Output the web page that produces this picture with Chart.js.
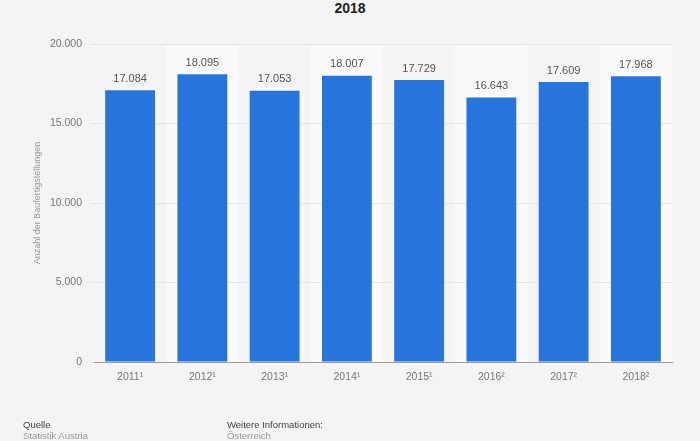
<!DOCTYPE html>
<html>
<head>
<meta charset="utf-8">
<script src="https://cdn.jsdelivr.net/npm/chart.js@4/dist/chart.umd.min.js"></script>
<style>
  html, body { margin: 0; padding: 0; background: #f4f4f4; }
  body { width: 700px; height: 441px; position: relative; overflow: hidden; font-family: "Liberation Sans", Arial, sans-serif; }
  #wrap { position: absolute; left: 0; top: 0; width: 700px; height: 441px; }
  .t { position: absolute; white-space: nowrap; font-size: 9.5px; line-height: 11px; }
  #title { position: absolute; left: 0; width: 700px; top: 0px; text-align: center; font-weight: bold; font-size: 14px; color: #222; }
</style>
</head>
<body>
<div id="title">2018</div>
<div id="wrap"><canvas id="c" width="700" height="441"></canvas></div>
<div class="t" style="left:23px; top:419px; color:#444;">Quelle</div>
<div class="t" style="left:23px; top:430px; color:#999;">Statistik Austria</div>
<div class="t" style="left:227px; top:419px; color:#444;">Weitere Informationen:</div>
<div class="t" style="left:227px; top:430px; color:#999;">Österreich</div>
<script>
const categories = ["2011¹", "2012¹", "2013¹", "2014¹", "2015¹", "2016²", "2017²", "2018²"];
const values = [17084, 18095, 17053, 18007, 17729, 16643, 17609, 17968];
const yTicks = [0, 5000, 10000, 15000, 20000];
const yTitle = "Anzahl der Baufertigstellungen";

const fmt = v => v.toLocaleString("de-DE");

const bandPlugin = {
  id: "bands",
  beforeDraw(chart) {
    const { ctx, chartArea, scales } = chart;
    const x = scales.x;
    const n = categories.length;
    const w = (chartArea.right - chartArea.left) / n;
    ctx.save();
    ctx.fillStyle = "#fafafa";
    for (let i = 0; i < n; i++) {
      if (i % 2 === 1) {
        const cx = x.getPixelForValue(i);
        ctx.fillRect(cx - w / 2, chartArea.top, w, chartArea.bottom - chartArea.top);
      }
    }
    ctx.restore();
  }
};

const labelPlugin = {
  id: "valueLabels",
  afterDatasetsDraw(chart) {
    const { ctx } = chart;
    const meta = chart.getDatasetMeta(0);
    ctx.save();
    ctx.font = "11px 'Liberation Sans', Arial, sans-serif";
    ctx.fillStyle = "#555";
    ctx.textAlign = "center";
    ctx.textBaseline = "bottom";
    meta.data.forEach((bar, i) => {
      ctx.fillText(fmt(values[i]), bar.x, bar.y - 6);
    });
    ctx.restore();
  }
};

new Chart(document.getElementById("c"), {
  type: "bar",
  data: {
    labels: categories,
    datasets: [{
      data: values,
      backgroundColor: "#2775dc",
      borderWidth: 0,
      barPercentage: 0.69,
      categoryPercentage: 1.0
    }]
  },
  options: {
    responsive: false,
    animation: false,
    devicePixelRatio: 1,
    layout: { padding: { top: 44, right: 28, bottom: 49, left: 32 } },
    plugins: { legend: { display: false }, tooltip: { enabled: false }, title: { display: false } },
    scales: {
      x: {
        grid: { display: false, drawTicks: false },
        border: { display: true, color: "#999", width: 1 },
        ticks: { color: "#777", font: { family: "'Liberation Sans', Arial, sans-serif", size: 10.5 }, padding: 9 },
        afterFit(s) { s.height = 30; }
      },
      y: {
        min: 0, max: 20000,
        afterBuildTicks(s) { s.ticks = yTicks.map(v => ({ value: v })); },
        grid: { color: "#e4e4e4", drawTicks: true, tickLength: 4, tickColor: "#e4e4e4" },
        border: { display: false },
        ticks: { color: "#777", font: { family: "'Liberation Sans', Arial, sans-serif", size: 10.5 }, padding: 8, callback: v => fmt(v) },
        title: { display: true, text: yTitle, color: "#999", font: { family: "'Liberation Sans', Arial, sans-serif", size: 9 }, padding: 0 },
        afterFit(s) { s.width = 62; }
      }
    }
  },
  plugins: [bandPlugin, labelPlugin]
});
</script>
</body>
</html>
